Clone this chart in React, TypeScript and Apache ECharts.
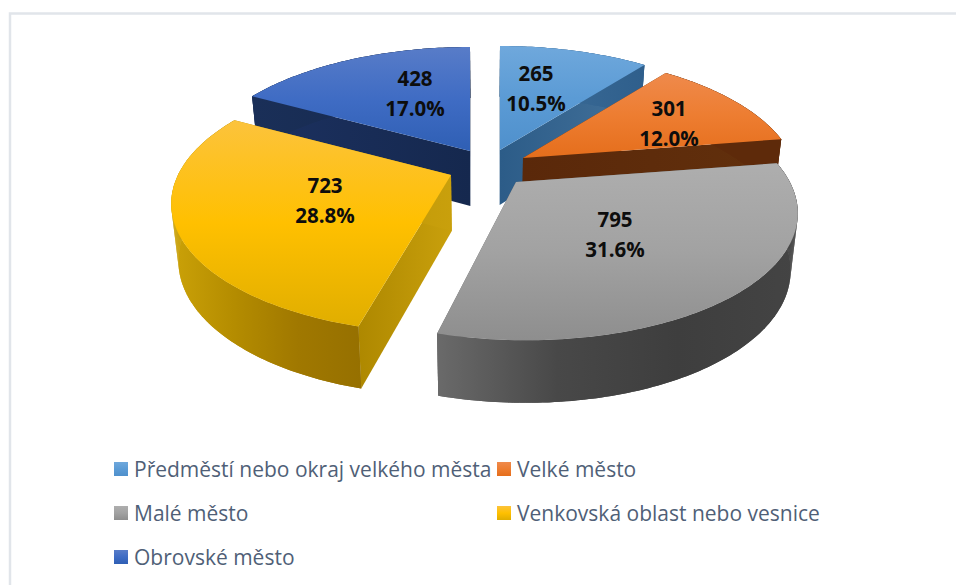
import React, { useEffect, useRef } from "react";
import * as echarts from "echarts";

const categories = [
  "Předměstí nebo okraj velkého města",
  "Velké město",
  "Malé město",
  "Venkovská oblast nebo vesnice",
  "Obrovské město",
];
const values = [265, 301, 795, 723, 428];
const total = values.reduce((a, b) => a + b, 0);

// layout: where each exploded slice's tip sits, its label, and its paint order
const apexes = [[500, 150], [523, 158], [516, 182], [451, 175], [470, 151]];
const labelCenters = [[536, 88], [669, 123], [615, 234], [325, 200], [415, 92.5]];
const paintOrder = [3, 4, 6, 5, 2];
const legendSpots = [[114, 469], [497, 469], [114, 513], [497, 513], [114, 557]];
const widthScale = [1, 0.988, 1.003, 1, 1];
const skew = [0, 0, 0.066, -0.027, 0];

const RX = 273, RY = 125.5, PERSPECTIVE = 0.207;
const VANISH_X = 485, SHRINK = 0.977, DROP = 55, DROP_GROW = 0.04;

const topStops = [
  ["#6FA8DC", "#5B9BD5", "#4F90CC"],
  ["#EF8A4C", "#ED7D31", "#E56E1C"],
  ["#AEAEAE", "#A2A2A2", "#8E8E8E"],
  ["#FCC33C", "#FFC000", "#E0AE00"],
  ["#587CC8", "#3F6CC4", "#2F5FB4"],
];
const wallStops = [
  ["#3F6F9A", "#2F5F8C"],
  ["#5E2A0A", "#5E2A0A"],
  ["#6A6A6A", "#484848", "#3E3E3E", "#444444"],
  ["#CBA208", "#B48C00", "#A07800", "#967000"],
  ["#1A2F58", "#15284C"],
];
const faceStops = [
  ["#2C5C88", "#44729B"],
  ["#5A280A", "#62300C"],
  ["#606060", "#606060"],
  ["#AE8800", "#C9A00C"],
  ["#1C3160", "#15284E"],
];

const spread = (stops: string[]) =>
  stops.map((color, i) => ({ offset: i / (stops.length - 1), color }));
const grad = (stops: string[], vertical: boolean) =>
  new echarts.graphic.LinearGradient(0, 0, vertical ? 0 : 1, vertical ? 1 : 0, spread(stops));

const rim = (index: number, deg: number) => {
  const apex = apexes[index];
  const t = (deg * Math.PI) / 180;
  const s = 1 / (1 + PERSPECTIVE * Math.cos(t));
  const dy = -RY * Math.cos(t) * s;
  return [apex[0] + RX * widthScale[index] * Math.sin(t) * s + dy * skew[index], apex[1] + dy];
};
const under = (p: number[]) => [
  VANISH_X + (p[0] - VANISH_X) * SHRINK,
  p[1] + DROP + (p[1] - 150) * DROP_GROW,
];

const makeRender = (index: number) => (_params: any, api: any) => {
  const value = api.value(0) as number;
  const before = values.slice(0, index).reduce((a, b) => a + b, 0);
  const from = (before / total) * 360;
  const to = ((before + value) / total) * 360;
  const apex = apexes[index];
  const arc: number[][] = [];
  const steps = Math.max(8, Math.ceil(to - from));
  for (let i = 0; i <= steps; i++) arc.push(rim(index, from + ((to - from) * i) / steps));
  const bottomArc = arc.map(under);
  const quad = (a: number[], b: number[]) => [a, b, under(b), under(a)];
  const poly = (points: number[][], fill: any) => ({
    type: "polygon",
    shape: { points },
    style: { fill },
  });
  const xs = [...arc, ...bottomArc].map((p) => p[0]);
  const wallFill = new echarts.graphic.LinearGradient(
    Math.min(...xs), 0, Math.max(...xs), 0, spread(wallStops[index]), true,
  );
  const wallStrips = arc.slice(1).map((p, i) => poly(quad(arc[i], p), wallFill));
  const center = labelCenters[index];
  const percent = ((value / total) * 100).toFixed(1) + "%";
  return {
    type: "group",
    children: [
      poly(quad(apex, arc[0]), grad(faceStops[index], false)),
      poly(quad(apex, arc[arc.length - 1]), grad(faceStops[index], false)),
      poly([...arc, ...bottomArc.slice().reverse()], wallFill),
      ...wallStrips,
      poly([apex, ...arc], grad(topStops[index], true)),
      {
        type: "text",
        x: center[0],
        y: center[1],
        style: {
          text: `${value}\n${percent}`,
          fontFamily: "Open Sans",
          fontWeight: 700,
          fontSize: 20.5,
          lineHeight: 30,
          fill: "#0d0d0d",
          align: "center",
          verticalAlign: "middle",
        },
      },
    ],
  };
};

export default function App() {
  const ref = useRef<HTMLDivElement>(null);
  useEffect(() => {
    if (!ref.current) return;
    const chart = echarts.init(ref.current, undefined, { renderer: "svg" });
    chart.setOption({
      animation: false,
      backgroundColor: "#ffffff",
      graphic: [
        {
          type: "rect",
          z: 0,
          shape: { x: 10, y: 13.5, width: 970, height: 600 },
          style: { fill: "#ffffff", stroke: "#E1E5EA", lineWidth: 2.5 },
        },
      ],
      legend: categories.map((name, i) => ({
        data: [name],
        left: legendSpots[i][0],
        top: legendSpots[i][1] - 15,
        padding: 0,
        itemWidth: 14,
        itemHeight: 14,
        itemGap: 0,
        icon: "rect",
        selectedMode: false,
        textStyle: {
          fontFamily: "Open Sans",
          fontSize: 21,
          color: "#505F77",
          height: 30,
          lineHeight: 30,
          padding: [0, 0, 0, 1],
        },
      })),
      series: categories.map((name, i) => ({
        type: "custom",
        name,
        coordinateSystem: "none",
        z: paintOrder[i],
        silent: true,
        itemStyle: { color: grad(topStops[i], true) },
        data: [[values[i]]],
        renderItem: makeRender(i),
      })),
    });
    return () => chart.dispose();
  }, []);
  return (
    <div
      ref={ref}
      style={{ position: "fixed", left: 0, top: 0, width: 956, height: 585 }}
    />
  );
}
